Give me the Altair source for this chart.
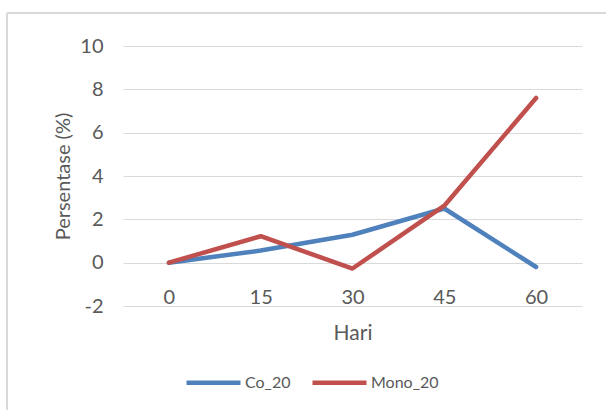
import altair as alt
import pandas as pd

# Observation days and measured percentages per treatment
hari = [0, 15, 30, 45, 60]
co_20 = [0.0, 0.56, 1.29, 2.5, -0.2]
mono_20 = [0.0, 1.22, -0.27, 2.63, 7.6]
series_names = ["Co_20", "Mono_20"]
series_colors = ["#4F81BD", "#C0504D"]
y_ticks = [-2, 0, 2, 4, 6, 8, 10]

rows = []
for d, c, m in zip(hari, co_20, mono_20):
    rows.append({"Hari": str(d), "Seri": "Co_20", "Nilai": c})
    rows.append({"Hari": str(d), "Seri": "Mono_20", "Nilai": m})
df = pd.DataFrame(rows)

W, H = 459, 260
FONT = "Lato"
GREY = "#595959"

lines = alt.Chart(df).mark_line(strokeWidth=4.5, strokeCap="round", strokeJoin="round").encode(
    x=alt.X(
        "Hari:O",
        sort=[str(h) for h in hari],
        scale=alt.Scale(type="point", padding=0.5),
        axis=alt.Axis(
            title="Hari",
            labelAngle=0,
            offset=-20,
            domain=False,
            ticks=False,
            labelPadding=11,
            labelBaseline="middle",
            labelFontSize=20,
            labelColor=GREY,
            labelFont=FONT,
            titleFontSize=21,
            titleFontWeight="normal",
            titleColor=GREY,
            titleFont=FONT,
            titleY=47,
            titleBaseline="middle",
        ),
    ),
    y=alt.Y(
        "Nilai:Q",
        scale=alt.Scale(domain=[-2, 10], nice=False, zero=False),
        axis=alt.Axis(
            title="Persentase (%)",
            values=y_ticks,
            labelExpr="'' + datum.value",
            domain=False,
            ticks=False,
            grid=True,
            gridColor="#d9d9d9",
            gridWidth=1.2,
            labelPadding=20,
            labelFontSize=20,
            labelColor=GREY,
            labelFont=FONT,
            titleFontSize=20,
            titleFontWeight="normal",
            titleColor=GREY,
            titleFont=FONT,
            titleX=-60,
            titleY=H / 2,
            titleAlign="center",
            titleBaseline="middle",
            titleAngle=-90,
        ),
    ),
    color=alt.Color(
        "Seri:N",
        scale=alt.Scale(domain=series_names, range=series_colors),
        legend=alt.Legend(
            title=None,
            orient="none",
            direction="horizontal",
            legendX=61,
            legendY=307,
            symbolType="stroke",
            symbolSize=2916,
            symbolStrokeWidth=4.5,
            labelFontSize=16,
            labelColor=GREY,
            labelFont=FONT,
            labelOffset=2,
            columnPadding=12,
        ),
    ),
)

# Outer chart frame (left and top edges)
frame_left = alt.Chart(df).mark_rule(color="#d9d9d9", strokeWidth=2).encode(
    x=alt.value(-116), y=alt.value(-33), y2=alt.value(H + 150)
)
frame_top = alt.Chart(df).mark_rule(color="#d9d9d9", strokeWidth=2).encode(
    y=alt.value(-33), x=alt.value(-116), x2=alt.value(W + 150)
)

chart = (
    alt.layer(frame_left, frame_top, lines)
    .properties(
        width=W,
        height=H,
        autosize=alt.AutoSizeParams(type="none"),
        padding={"left": 123, "top": 46, "right": 24, "bottom": 104},
        background="white",
    )
    .configure_view(stroke=None)
)

chart.save("out.html", embed_options={"renderer": "svg", "actions": False})
